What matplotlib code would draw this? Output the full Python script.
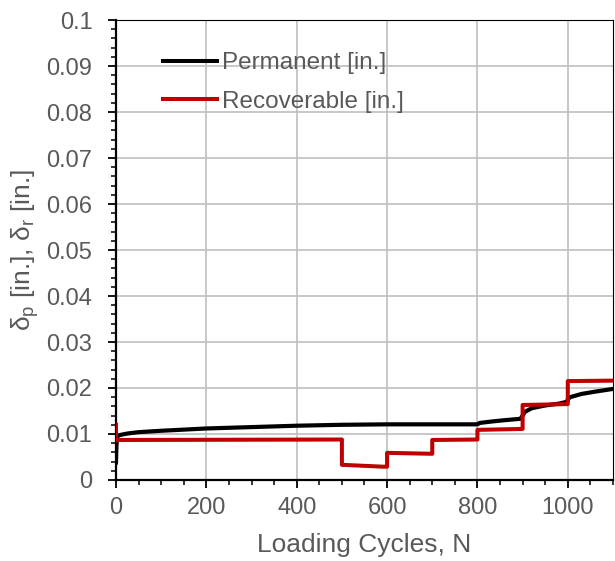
import matplotlib
matplotlib.use("Agg")
import matplotlib.pyplot as plt
from matplotlib.ticker import MultipleLocator

plt.rcParams['font.family'] = ['Liberation Sans', 'DejaVu Sans']
plt.rcParams['mathtext.default'] = 'regular'

# Permanent deformation vs loading cycles
perm_n = [0, 1, 3, 10, 25, 50, 100, 200, 300, 400, 500, 600, 700, 800,
          805, 830, 860, 895, 900, 905, 920, 950, 980, 998,
          1000, 1005, 1030, 1060, 1100]
perm_d = [0.0038, 0.0075, 0.0096, 0.0098, 0.0101, 0.0104, 0.0107, 0.0112, 0.0115,
          0.0118, 0.0120, 0.0121, 0.0121, 0.0121,
          0.0124, 0.0127, 0.0130, 0.0133, 0.0140, 0.0148, 0.0156, 0.0162, 0.0166, 0.0170,
          0.0175, 0.0180, 0.0187, 0.0192, 0.0198]

# Recoverable deformation vs loading cycles (stepwise load levels)
rec_n = [0, 0, 2, 500, 500, 590, 600, 600, 700, 700, 800, 800,
         900, 900, 1000, 1000, 1100]
rec_d = [0.0120, 0.0085, 0.0087, 0.0088, 0.0033, 0.0029, 0.0029, 0.0059, 0.0057,
         0.0087, 0.0088, 0.0109, 0.0111, 0.0163, 0.0165, 0.0215, 0.0216]

x_ticks = [0, 200, 400, 600, 800, 1000]
y_ticks = [0, 0.01, 0.02, 0.03, 0.04, 0.05, 0.06, 0.07, 0.08, 0.09, 0.1]
y_labels = ['0', '0.01', '0.02', '0.03', '0.04', '0.05', '0.06', '0.07', '0.08', '0.09', '0.1']

txt = '#595959'
fig = plt.figure(figsize=(6.15, 5.61), dpi=100)
ax = fig.add_axes([0.1886, 0.1444, 0.8081, 0.8199])

ax.plot(perm_n, perm_d, color='#000000', lw=3.0, label='Permanent [in.]', zorder=3)
ax.plot(rec_n, rec_d, color='#C00000', lw=2.9, label='Recoverable [in.]', zorder=4)

ax.set_xlim(0, 1100)
ax.set_ylim(0, 0.1)
ax.set_xticks(x_ticks)
ax.set_yticks(y_ticks)
ax.set_yticklabels(y_labels)
ax.xaxis.set_minor_locator(MultipleLocator(50))
ax.yaxis.set_minor_locator(MultipleLocator(0.002))
ax.grid(True, which='major', color='#BFBFBF', lw=1.2, zorder=0)
ax.set_axisbelow(True)

for s in ['left', 'bottom']:
    ax.spines[s].set_linewidth(1.6)
for s in ['top', 'right']:
    ax.spines[s].set_linewidth(0.8)

ax.tick_params(which='major', direction='out', length=6, width=1.3,
               labelsize=17, labelcolor=txt, top=False, right=False)
ax.tick_params(which='minor', direction='out', length=3.5, width=1.1,
               top=False, right=False)
ax.tick_params(axis='x', which='major', pad=6.5)
ax.tick_params(axis='y', which='major', pad=11)

ax.set_xlabel('Loading Cycles, N', fontsize=19, color=txt, labelpad=10)
ax.set_ylabel(r'$\delta_p$ [in.], $\delta_r$ [in.]', fontsize=19, color=txt, labelpad=4)

leg = ax.legend(loc='upper left', bbox_to_anchor=(0.094, 0.93), frameon=False,
                fontsize=17.5, handlelength=2.22, handletextpad=0.2, labelspacing=0.68,
                borderaxespad=0, borderpad=0)
for t in leg.get_texts():
    t.set_color(txt)
for l in leg.get_lines():
    l.set_linewidth(2.9)

fig.savefig('out.png', dpi=100)
